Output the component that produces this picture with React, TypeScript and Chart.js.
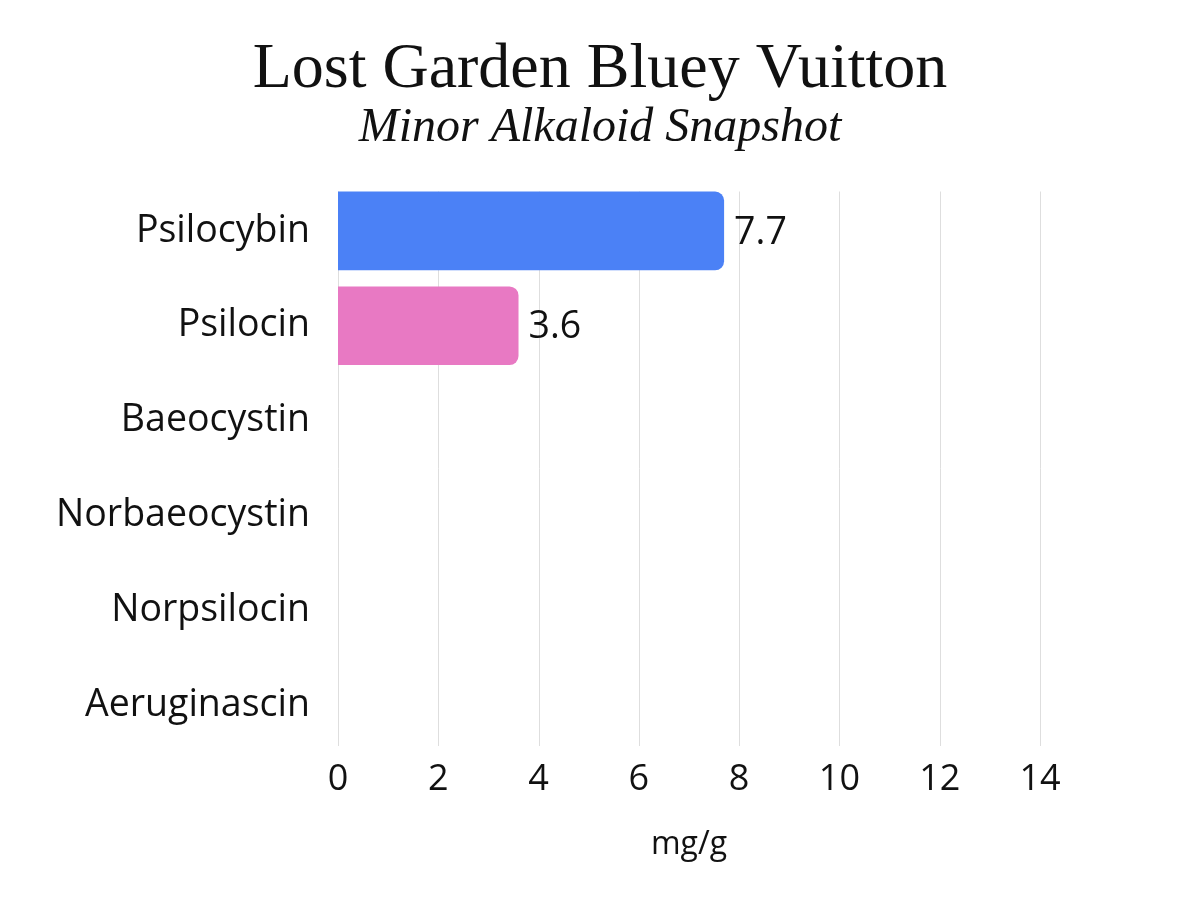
import React, { useEffect, useRef } from "react";
import { Chart, registerables } from "chart.js";

Chart.register(...registerables);

const TITLE = "Lost Garden Bluey Vuitton";
const SUBTITLE = "Minor Alkaloid Snapshot";
const X_TITLE = "mg/g";
const categories = ["Psilocybin", "Psilocin", "Baeocystin", "Norbaeocystin", "Norpsilocin", "Aeruginascin"];
const values = [7.7, 3.6, 0, 0, 0, 0];
const barColors = ["#4b81f6", "#e879c3", "#f2a33a", "#3fb68b", "#9b6ee8", "#e85d5d"];
const X_MIN = 0;
const X_MAX = 14;
const X_STEP = 2;

const SANS = "'Open Sans', 'Noto Sans', sans-serif";
const SERIF = "'Liberation Serif', 'Times New Roman', serif";
const TEXT = "#111111";

const gridPlugin = {
  id: "insetGrid",
  beforeDatasetsDraw(chart: any) {
    const { ctx, chartArea } = chart;
    const xs = chart.scales.x;
    ctx.save();
    ctx.strokeStyle = "#dedede";
    ctx.lineWidth = 1;
    xs.ticks.forEach((t: any) => {
      const px = Math.round(xs.getPixelForValue(t.value)) + 0.5;
      ctx.beginPath();
      ctx.moveTo(px, chartArea.top + 8);
      ctx.lineTo(px, chartArea.bottom - 6.5);
      ctx.stroke();
    });
    ctx.restore();
  },
};

const valueLabelPlugin = {
  id: "valueLabels",
  afterDatasetsDraw(chart: any) {
    const { ctx } = chart;
    const meta = chart.getDatasetMeta(0);
    ctx.save();
    ctx.font = `37.5px ${SANS}`;
    ctx.fillStyle = TEXT;
    ctx.textAlign = "left";
    ctx.textBaseline = "middle";
    meta.data.forEach((bar: any, i: number) => {
      const v = values[i];
      if (!v) return;
      ctx.fillText(v.toFixed(1), bar.x + 10, bar.y + 2);
    });
    ctx.restore();
  },
};

export default function App() {
  const ref = useRef<HTMLCanvasElement | null>(null);
  useEffect(() => {
    if (!ref.current) return;
    const chart = new Chart(ref.current, {
      type: "bar",
      data: {
        labels: categories,
        datasets: [
          {
            data: values,
            backgroundColor: barColors,
            borderRadius: 9,
            borderSkipped: "start",
            barPercentage: 0.83,
            categoryPercentage: 1,
          },
        ],
      },
      options: {
        indexAxis: "y",
        responsive: false,
        animation: false,
        devicePixelRatio: 1,
        layout: { padding: { left: 0, right: 0, top: 0, bottom: 0 } },
        plugins: {
          legend: { display: false },
          tooltip: { enabled: false },
          title: {
            display: true,
            text: TITLE,
            color: TEXT,
            font: { family: SERIF, size: 64, weight: "normal", lineHeight: 1 },
            padding: { top: 38, bottom: 2 },
          },
          subtitle: {
            display: true,
            text: SUBTITLE,
            color: TEXT,
            font: { family: SERIF, size: 48, style: "italic", weight: "normal", lineHeight: 1 },
            padding: { top: 0, bottom: 31.5 },
          },
        },
        scales: {
          x: {
            type: "linear",
            min: X_MIN,
            max: X_MAX,
            grid: { display: false, drawTicks: false },
            border: { display: false },
            ticks: {
              stepSize: X_STEP,
              color: TEXT,
              padding: 6,
              font: { family: SANS, size: 36 },
            },
            title: {
              display: true,
              text: X_TITLE,
              color: TEXT,
              font: { family: SANS, size: 32 },
              padding: { top: 0, bottom: 36 },
            },
            afterFit: (s: any) => {
              s.height = 147.5;
            },
          },
          y: {
            type: "category",
            position: "left",
            grid: { display: false, drawTicks: false },
            border: { display: false },
            ticks: {
              color: TEXT,
              padding: 28,
              font: { family: SANS, size: 37.5 },
            },
            afterFit: (s: any) => {
              s.width = 338;
            },
          },
          yRight: {
            type: "category",
            position: "right",
            display: true,
            grid: { display: false, drawTicks: false },
            border: { display: false },
            ticks: { display: false },
            afterFit: (s: any) => {
              s.width = 160;
            },
          },
        },
      },
      plugins: [gridPlugin, valueLabelPlugin],
    });
    return () => chart.destroy();
  }, []);
  return (
    <div style={{ position: "absolute", left: 0, top: 0, width: 1200, height: 900, background: "#ffffff" }}>
      <canvas ref={ref} width={1200} height={900} />
    </div>
  );
}
